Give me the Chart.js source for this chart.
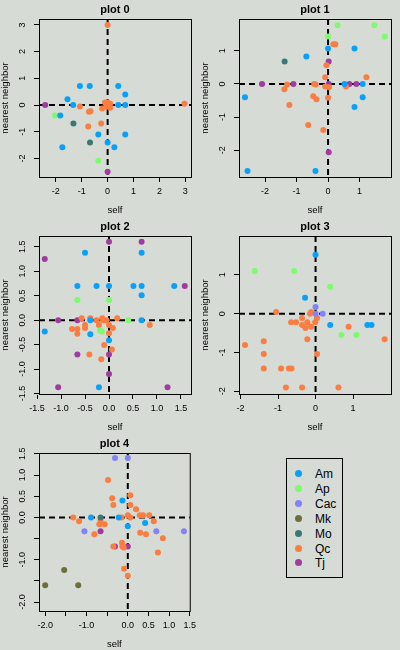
<!DOCTYPE html>
<html>
<head>
<meta charset="utf-8">
<script src="https://cdn.jsdelivr.net/npm/chart.js@4.4.1/dist/chart.umd.min.js"></script>
<style>
  body { margin: 0; background: #d6dbd5; width: 400px; height: 650px; position: relative; overflow: hidden; font-family: "Liberation Sans", Arial, sans-serif; }
  .panel { position: absolute; width: 200px; height: 217px; }
  #legend { position: absolute; left: 286px; top: 458px; width: 57px; height: 120px; border: 1px solid #000; box-sizing: border-box; }
  .item { position: absolute; left: 0; height: 14px; font-size: 12px; line-height: 14px; color: #000; }
  .dot { position: absolute; left: 8px; top: 3px; width: 7px; height: 7px; border-radius: 50%; }
  .lab { position: absolute; left: 28px; top: 0; }
</style>
</head>
<body>
<div class="panel" style="left:0;top:0"><canvas id="c0" width="200" height="217"></canvas></div>
<div class="panel" style="left:200px;top:0"><canvas id="c1" width="200" height="217"></canvas></div>
<div class="panel" style="left:0;top:217px"><canvas id="c2" width="200" height="217"></canvas></div>
<div class="panel" style="left:200px;top:217px"><canvas id="c3" width="200" height="217"></canvas></div>
<div class="panel" style="left:0;top:434px"><canvas id="c4" width="200" height="217"></canvas></div>
<div id="legend"></div>
<script>
// species and their colours
const species = ['Am', 'Ap', 'Cac', 'Mk', 'Mo', 'Qc', 'Tj'];
const speciesColors = ['#0aa0fa', '#7dfb6e', '#8282fa', '#6e6e3c', '#3c7873', '#fa7d41', '#a03ca0'];

const plotTitles = ['plot 0', 'plot 1', 'plot 2', 'plot 3', 'plot 4'];

// plot 0
const p0Group = ['Am','Am','Am','Am','Am','Am','Am','Am','Am','Am','Am','Am','Am','Am',
  'Ap','Ap','Mo','Mo',
  'Qc','Qc','Qc','Qc','Qc','Qc','Qc','Qc','Qc','Qc','Qc','Qc','Qc','Qc','Qc',
  'Tj','Tj'];
const p0Self = [-1.07,-0.69,0.41,0.68,-1.55,-1.33,0.41,0.68,-1.83,-0.36,0.68,0,0.26,-1.75,
  -2.03,-0.36,-1.32,-0.68,
  0,2.97,-1.07,-0.72,-0.66,-0.75,-0.25,-0.21,-0.1,0,0.05,0.1,-0.05,0.1,0.03,
  -2.41,0];
const p0Nn = [0.71,0.71,0.71,0.4,0.22,0,0,0,-0.39,-1.1,-1.1,-1.4,-1.58,-1.58,
  -0.39,-2.08,-0.69,-1.4,
  3.0,0.05,-0.05,-0.25,-0.23,-0.8,-0.69,-0.13,0.1,0.1,0,-0.1,-0.05,0.05,-0.03,
  0,-2.49];

// plot 1
const p1Group = ['Am','Am','Am','Am','Am','Am','Am','Am','Am','Am',
  'Ap','Ap','Ap','Ap','Mo',
  'Qc','Qc','Qc','Qc','Qc','Qc','Qc','Qc','Qc','Qc','Qc','Qc','Qc','Qc','Qc','Qc','Qc','Qc',
  'Tj','Tj','Tj','Tj','Tj','Tj','Tj'];
const p1Self = [0,0.84,-0.69,0.52,1.1,-2.64,1.1,0.84,-2.56,-0.4,
  0.3,1.47,1.8,0,-1.38,
  0.17,0.23,-0.05,-0.09,1.22,-1.3,-0.44,-0.39,-0.09,0.03,0.57,-1.39,-0.47,-0.37,0,-1.23,-0.63,-0.15,
  0.02,-2.1,-1.1,0.02,0.68,0.9,0.02];
const p1Nn = [1.07,1.07,0.83,0,0,-0.4,-0.4,-0.7,-2.63,-2.63,
  1.77,1.77,1.43,1.43,0.68,
  1.2,1.2,0.56,0.2,0.2,-0.02,0,-0.02,-0.08,-0.1,-0.08,-0.16,-0.37,-0.46,-0.42,-0.64,-1.24,-1.39,
  0.68,0,0,0,0,0,-2.06];

// plot 2
const p2Group = ['Am','Am','Am','Am','Am','Am','Am','Am','Am','Am','Am','Am','Am','Am','Am',
  'Ap','Ap','Ap','Ap','Ap',
  'Qc','Qc','Qc','Qc','Qc','Qc','Qc','Qc','Qc','Qc','Qc','Qc','Qc','Qc','Qc','Qc','Qc','Qc','Qc','Qc','Qc',
  'Tj','Tj','Tj','Tj','Tj','Tj','Tj','Tj','Tj','Tj','Tj'];
const p2Self = [-0.5,0.68,-0.66,-0.26,0,0.51,0.68,1.36,0.68,-0.39,0.68,-1.34,-0.39,0,-0.21,
  -0.66,0,0.4,-0.19,-0.15,
  -0.57,-0.39,-0.26,-0.14,-0.12,-0.05,0.17,-0.5,-0.5,-0.77,-0.66,-0.66,-0.21,0,0.08,0,0.85,-0.1,0.06,-0.41,-0.16,
  0,0.68,-1.34,1.58,-1.06,-0.66,-0.66,0,0,-1.06,1.22];
const p2Nn = [1.38,1.38,0.7,0.7,0.7,0.7,0.7,0.7,0.51,0,0,-0.23,-0.29,-0.41,-1.37,
  0.41,0.41,0,-0.21,-0.23,
  0.04,0.04,0,0.04,0,0,0.04,-0.1,-0.16,-0.18,-0.18,-0.28,-0.1,-0.1,-0.16,-0.27,-0.1,-0.51,-0.6,-0.7,-0.8,
  1.6,1.6,1.25,0.7,0,0,-0.7,-0.7,-1.1,-1.37,-1.37];

// plot 3
const p3Group = ['Am','Am','Am','Am','Am',
  'Ap','Ap','Ap','Ap','Ap',
  'Cac','Cac','Cac',
  'Qc','Qc','Qc','Qc','Qc','Qc','Qc','Qc','Qc','Qc','Qc','Qc','Qc','Qc','Qc','Qc','Qc','Qc','Qc','Qc','Qc','Qc','Qc','Qc','Qc','Qc'];
const p3Self = [0,-0.28,0.39,1.38,1.49,
  -1.62,-0.57,0.39,0.69,1.09,
  0,0,0.19,
  -1.05,-0.15,-0.12,0.04,-0.01,-0.65,-0.52,-0.36,-0.36,-0.27,-0.22,-0.12,0.88,1.84,-0.22,-1.38,-1.88,-1.38,0.04,-1.38,-0.92,-0.71,-0.64,-0.79,-0.36,0.61];
const p3Nn = [1.52,0.41,-0.29,-0.29,-0.29,
  1.1,1.1,0.69,-0.55,-0.55,
  0.17,0,0,
  0.04,0,0.04,-0.11,-0.22,-0.22,-0.22,-0.11,-0.29,-0.37,-0.22,-0.34,-0.34,-0.66,-0.66,-0.71,-0.81,-1.04,-1.04,-1.41,-1.41,-1.41,-1.41,-1.9,-1.9,-1.9];

// plot 4
const p4Group = ['Am','Am','Am','Am','Am',
  'Cac','Cac','Cac','Cac','Cac',
  'Mk','Mk','Mk','Mo',
  'Qc','Qc','Qc','Qc','Qc','Qc','Qc','Qc','Qc','Qc','Qc','Qc','Qc','Qc','Qc','Qc','Qc','Qc','Qc','Qc','Qc','Qc','Qc','Qc','Qc','Qc','Qc','Qc','Qc','Qc',
  'Tj','Tj','Tj'];
const p4Self = [-0.13,-0.89,-0.22,0.42,0,
  -0.31,0,-1.05,0.69,1.36,
  -1.54,-2.0,-1.2,-0.66,
  -0.48,-0.38,-0.35,0.06,0.06,0.2,-1.32,-1.18,-0.66,-0.66,-0.69,-0.56,-0.15,0,0.06,0.29,0.37,0.52,0.63,-0.81,0.3,0.44,0.85,-0.35,-0.14,-0.13,-0.1,0.73,-0.09,0,
  -0.66,-0.31,0];
const p4Nn = [0.4,0,0,-0.13,-0.21,
  1.4,1.4,-0.33,-0.33,-0.33,
  -1.24,-1.6,-1.6,0,
  0.88,0.45,0.29,0.52,0.29,0.19,0,-0.09,-0.06,-0.15,-0.16,-0.16,0,0.05,0,0.05,0.05,0.05,-0.09,-0.4,-0.36,-0.4,-0.49,-0.69,-0.6,-0.69,-0.71,-0.83,-1.21,-1.38,
  -0.33,-0.69,-0.69];

// axis ticks and labels
const p0Ticks = [-2, -1, 0, 1, 2, 3];
const p0Labels = ['-2', '-1', '0', '1', '2', '3'];
const p13Ticks = [-2, -1, 0, 1];
const p13Labels = ['-2', '-1', '0', '1'];
const p2Ticks = [-1.5, -1, -0.5, 0, 0.5, 1, 1.5];
const p2Labels = ['-1.5', '-1.0', '-0.5', '0.0', '0.5', '1.0', '1.5'];
const p4Ticks = [-2, -1.5, -1, -0.5, 0, 0.5, 1, 1.5];
const p4Labels = ['-2.0', '', '-1.0', '', '0.0', '0.5', '1.0', '1.5'];

// axis ranges [min, max]
const xLims = [[-2.65, 3.22], [-2.83, 2.0], [-1.46, 1.71], [-2.04, 2.01], [-2.15, 1.5]];
const yLims = [[-2.69, 3.22], [-2.81, 1.96], [-1.51, 1.72], [-2.07, 2.0], [-2.21, 1.52]];

const FONT = '"Liberation Sans", Arial, sans-serif';
const measureCtx = document.createElement('canvas').getContext('2d');

// black frame + dashed zero lines
const framePlugin = {
  id: 'frame',
  beforeDatasetsDraw(chart) {
    const { ctx, chartArea: a, scales } = chart;
    const x0 = scales.x.getPixelForValue(0);
    const y0 = scales.y.getPixelForValue(0);
    ctx.save();
    ctx.strokeStyle = '#000';
    ctx.lineWidth = 2;
    ctx.setLineDash([6, 4]);
    ctx.beginPath();
    ctx.moveTo(x0, a.top);
    ctx.lineTo(x0, a.bottom);
    ctx.moveTo(a.left, y0);
    ctx.lineTo(a.right, y0);
    ctx.stroke();
    ctx.restore();
  },
  afterDraw(chart) {
    const { ctx, chartArea: a } = chart;
    ctx.save();
    ctx.strokeStyle = '#000';
    ctx.lineWidth = 1;
    ctx.strokeRect(a.left + 0.5, a.top + 0.5, a.right - a.left, a.bottom - a.top);
    ctx.restore();
  }
};

function makeChart(id, idx, group, self, nn, xTicks, xLabels, yTicks, yLabels) {
  const datasets = species.map((s, i) => ({
    label: s,
    data: group.map((g, k) => g === s ? { x: self[k], y: nn[k] } : null).filter(p => p),
    backgroundColor: speciesColors[i],
    borderWidth: 0,
    pointRadius: 3,
    pointHoverRadius: 3
  })).filter(d => d.data.length);

  measureCtx.font = '9px ' + FONT;
  const widest = Math.max(...yLabels.map(l => measureCtx.measureText(l).width));

  new Chart(document.getElementById(id), {
    type: 'scatter',
    data: { datasets },
    options: {
      responsive: false,
      animation: false,
      events: [],
      layout: { padding: { top: 2.8, right: 9, left: 0, bottom: 0 } },
      plugins: {
        legend: { display: false },
        tooltip: { enabled: false },
        title: {
          display: true, text: plotTitles[idx], fullSize: false, color: '#000',
          font: { family: FONT, size: 11, weight: 'bold' },
          padding: { top: 1, bottom: 2 }
        }
      },
      scales: {
        x: {
          type: 'linear', position: 'bottom',
          min: xLims[idx][0], max: xLims[idx][1],
          afterBuildTicks: s => { s.ticks = xTicks.map(v => ({ value: v })); },
          afterFit: s => { s.height = 40; },
          ticks: {
            color: '#000', font: { family: FONT, size: 9 }, padding: 4,
            maxRotation: 0, autoSkip: false,
            callback: (v, i) => xLabels[i]
          },
          grid: { display: true, drawOnChartArea: false, tickLength: 5, color: '#000', lineWidth: 1 },
          border: { display: true, color: '#000', width: 1 },
          title: { display: true, text: 'self', color: '#000', font: { family: FONT, size: 9.5 }, padding: { top: 0, bottom: 1 } }
        },
        y: {
          type: 'linear', position: 'left',
          min: yLims[idx][0], max: yLims[idx][1],
          afterBuildTicks: s => { s.ticks = yTicks.map(v => ({ value: v })); },
          afterFit: s => { s.width = 39; },
          ticks: {
            color: '#000', font: { family: FONT, size: 9 },
            minRotation: 90, maxRotation: 90, crossAlign: 'center',
            padding: 11 - widest / 2, autoSkip: false,
            callback: (v, i) => yLabels[i]
          },
          grid: { display: true, drawOnChartArea: false, tickLength: 5, color: '#000', lineWidth: 1 },
          border: { display: true, color: '#000', width: 1 },
          title: { display: true, text: 'nearest neighbor', color: '#000', font: { family: FONT, size: 9.5 }, padding: { top: 0, bottom: 0 } }
        }
      }
    },
    plugins: [framePlugin]
  });
}

makeChart('c0', 0, p0Group, p0Self, p0Nn, p0Ticks, p0Labels, p0Ticks, p0Labels);
makeChart('c1', 1, p1Group, p1Self, p1Nn, p13Ticks, p13Labels, p13Ticks, p13Labels);
makeChart('c2', 2, p2Group, p2Self, p2Nn, p2Ticks, p2Labels, p2Ticks, p2Labels);
makeChart('c3', 3, p3Group, p3Self, p3Nn, p13Ticks, p13Labels, p13Ticks, p13Labels);
makeChart('c4', 4, p4Group, p4Self, p4Nn, p4Ticks, p4Labels, p4Ticks, p4Labels);

// legend
const legend = document.getElementById('legend');
species.forEach((s, i) => {
  const item = document.createElement('div');
  item.className = 'item';
  item.style.top = (8 + i * 14.9) + 'px';
  item.style.width = '55px';
  item.innerHTML = '<span class="dot" style="background:' + speciesColors[i] + '"></span><span class="lab">' + s + '</span>';
  legend.appendChild(item);
});
</script>
</body>
</html>
